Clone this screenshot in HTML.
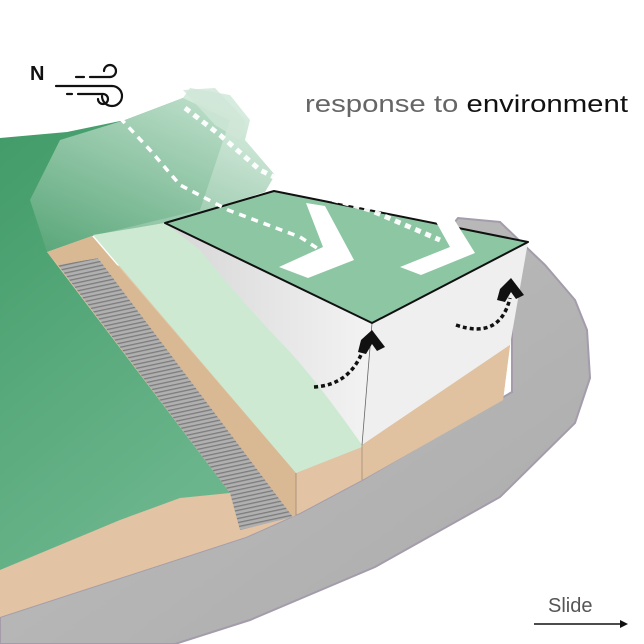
<!DOCTYPE html>
<html><head><meta charset="utf-8"><style>
html,body{margin:0;padding:0;background:#fff;width:644px;height:644px;overflow:hidden}
svg{display:block}
</style></head><body>
<svg width="644" height="644" viewBox="0 0 644 644" xmlns="http://www.w3.org/2000/svg">
<defs>
<linearGradient id="gf" x1="0" y1="0" x2="0.4" y2="1">
<stop offset="0" stop-color="#3f9a66"/><stop offset="1" stop-color="#6bb58c"/></linearGradient>
<linearGradient id="hill" x1="0" y1="1" x2="0.6" y2="0">
<stop offset="0" stop-color="#5aa679"/><stop offset="1" stop-color="#cfe8d8"/></linearGradient>
<linearGradient id="wall" x1="0" y1="0" x2="1" y2="0">
<stop offset="0" stop-color="#d6d6d6"/><stop offset="1" stop-color="#f3f3f3"/></linearGradient>
<linearGradient id="road" x1="0" y1="0" x2="1" y2="1">
<stop offset="0" stop-color="#c0c0c0"/><stop offset="1" stop-color="#ababab"/></linearGradient>
<pattern id="st" width="6" height="4" patternUnits="userSpaceOnUse" patternTransform="rotate(-12)">
<rect width="6" height="4" fill="#b0b0b0"/><rect width="6" height="1.3" fill="#7c7c7c"/></pattern>
</defs>
<!-- road -->
<path d="M0,600 L0,644 L175,644 L250,620 L375,567 L500,497 L575,423 L590,378 L587,330 L575,300 L545,265 L500,222 L458,218 L440,240 L512,300 L512,392 L362,480 L300,513 L246,537 L0,617 Z" fill="url(#road)" stroke="#a49cab" stroke-width="2"/>
<!-- sand base -->
<path d="M0,560 L0,617 L246,537 L300,513 L362,480 L503,400 L512,330 L300,300 L47,252 Z" fill="#e2c3a3"/>
<!-- dark green field -->
<path d="M0,138 L67,132 L125,120 L183,98 L230,120 L200,210 L92,236 L47,252 L230,493 L180,498 L120,520 L0,570 Z" fill="url(#gf)"/>
<!-- hill translucent -->
<path d="M60,140 L125,120 L183,98 L190,88 L230,95 L250,120 L245,140 L275,175 L265,192 L165,223 L92,236 L47,252 L30,200 Z" fill="url(#hill)" opacity="0.85"/>
<path d="M183,90 L215,88 L245,120 L240,140 L215,125 Z" fill="#cfe6d7" opacity="0.8"/>
<!-- stairs -->
<path d="M58,265 L98,258 L293,517 L240,530 L230,493 Z" fill="url(#st)"/>
<!-- sand wall strip -->
<path d="M47,252 L92,236 L296,473 L296,515 L293,517 L98,258 L58,265 Z" fill="#d9b894"/>
<!-- light green strip (extends under wall) -->
<path d="M93,235 L165,223 L372,323 L362,447 L296,473 Z" fill="#cde9d2"/>
<line x1="296" y1="473" x2="296" y2="515" stroke="#9f8a74" stroke-width="0.8"/>
<!-- building -->
<path d="M165,223 L372,323 L362,445 Q320,385 290,352 Q240,300 200,250 Z" fill="url(#wall)"/>
<path d="M372,323 L528,242 L510,345 L362,445 Z" fill="#efefef"/>
<path d="M510,345 L503,400 L362,480 L362,445 Z" fill="#e0c1a0"/>
<line x1="372" y1="323" x2="362" y2="445" stroke="#666" stroke-width="0.8"/>
<line x1="362" y1="445" x2="362" y2="480" stroke="#8c7a68" stroke-width="0.6"/>
<!-- roof -->
<path d="M165,223 L274,191 L528,242 L372,323 Z" fill="#8dc6a3" stroke="#111" stroke-width="2" stroke-linejoin="round"/>
<!-- wind dotted lines -->
<path d="M120,118 L150,150 L180,185 L228,210 L300,237 L320,250" fill="none" stroke="#fff" stroke-width="3.5" stroke-dasharray="7,6"/>
<path d="M185,108 L220,135 L260,170 L300,190 L370,210 L440,240" fill="none" stroke="#fff" stroke-width="5" stroke-dasharray="6,5" opacity="0.95"/>
<!-- chevrons -->
<polygon points="306,203 325,206 354,260 308,278 279,267 323,247" fill="#fff"/>
<polygon points="425,202 442,200 475,253 421,275 400,267 450,247" fill="#fff"/>
<!-- black dotted arrows -->
<path d="M314,387 Q350,385 363,350" fill="none" stroke="#111" stroke-width="3.5" stroke-dasharray="4,3"/>
<polygon points="361,340 372,330 385,347 377,351 372,344 366,354 358,352" fill="#111"/>
<path d="M456,325 Q500,340 510,298" fill="none" stroke="#111" stroke-width="3.5" stroke-dasharray="4,3"/>
<polygon points="500,289 511,278 524,295 516,299 511,292 505,302 497,300" fill="#111"/>
<!-- N wind icon -->
<text x="30" y="80" font-family="Liberation Sans, sans-serif" font-weight="bold" font-size="20" fill="#111">N</text>
<g fill="none" stroke="#111" stroke-width="2.2" stroke-linecap="round">
<line x1="56" y1="86" x2="112" y2="86"/>
<line x1="76" y1="77" x2="84" y2="77"/><line x1="90" y1="77" x2="110" y2="77"/>
<path d="M110,77 a6,6 0 1 0 -6,-6"/>
<line x1="67" y1="94" x2="72" y2="94"/><line x1="78" y1="94" x2="103" y2="94"/>
<path d="M103,94 a5,5 0 1 1 -5,5"/>
<path d="M112,86 a10,10 0 1 1 -10,10"/>
</g>
<!-- title -->
<text x="305" y="112" font-family="Liberation Sans, sans-serif" font-size="24" textLength="323" lengthAdjust="spacingAndGlyphs"><tspan fill="#666" font-weight="300">response to </tspan><tspan fill="#111">environment</tspan></text>
<!-- slide -->
<text x="548" y="612" font-family="Liberation Sans, sans-serif" font-size="20" fill="#555">Slide</text>
<line x1="534" y1="624" x2="624" y2="624" stroke="#111" stroke-width="1.5"/>
<polygon points="628,624 620,620 620,628" fill="#111"/>
</svg>
</body></html>
